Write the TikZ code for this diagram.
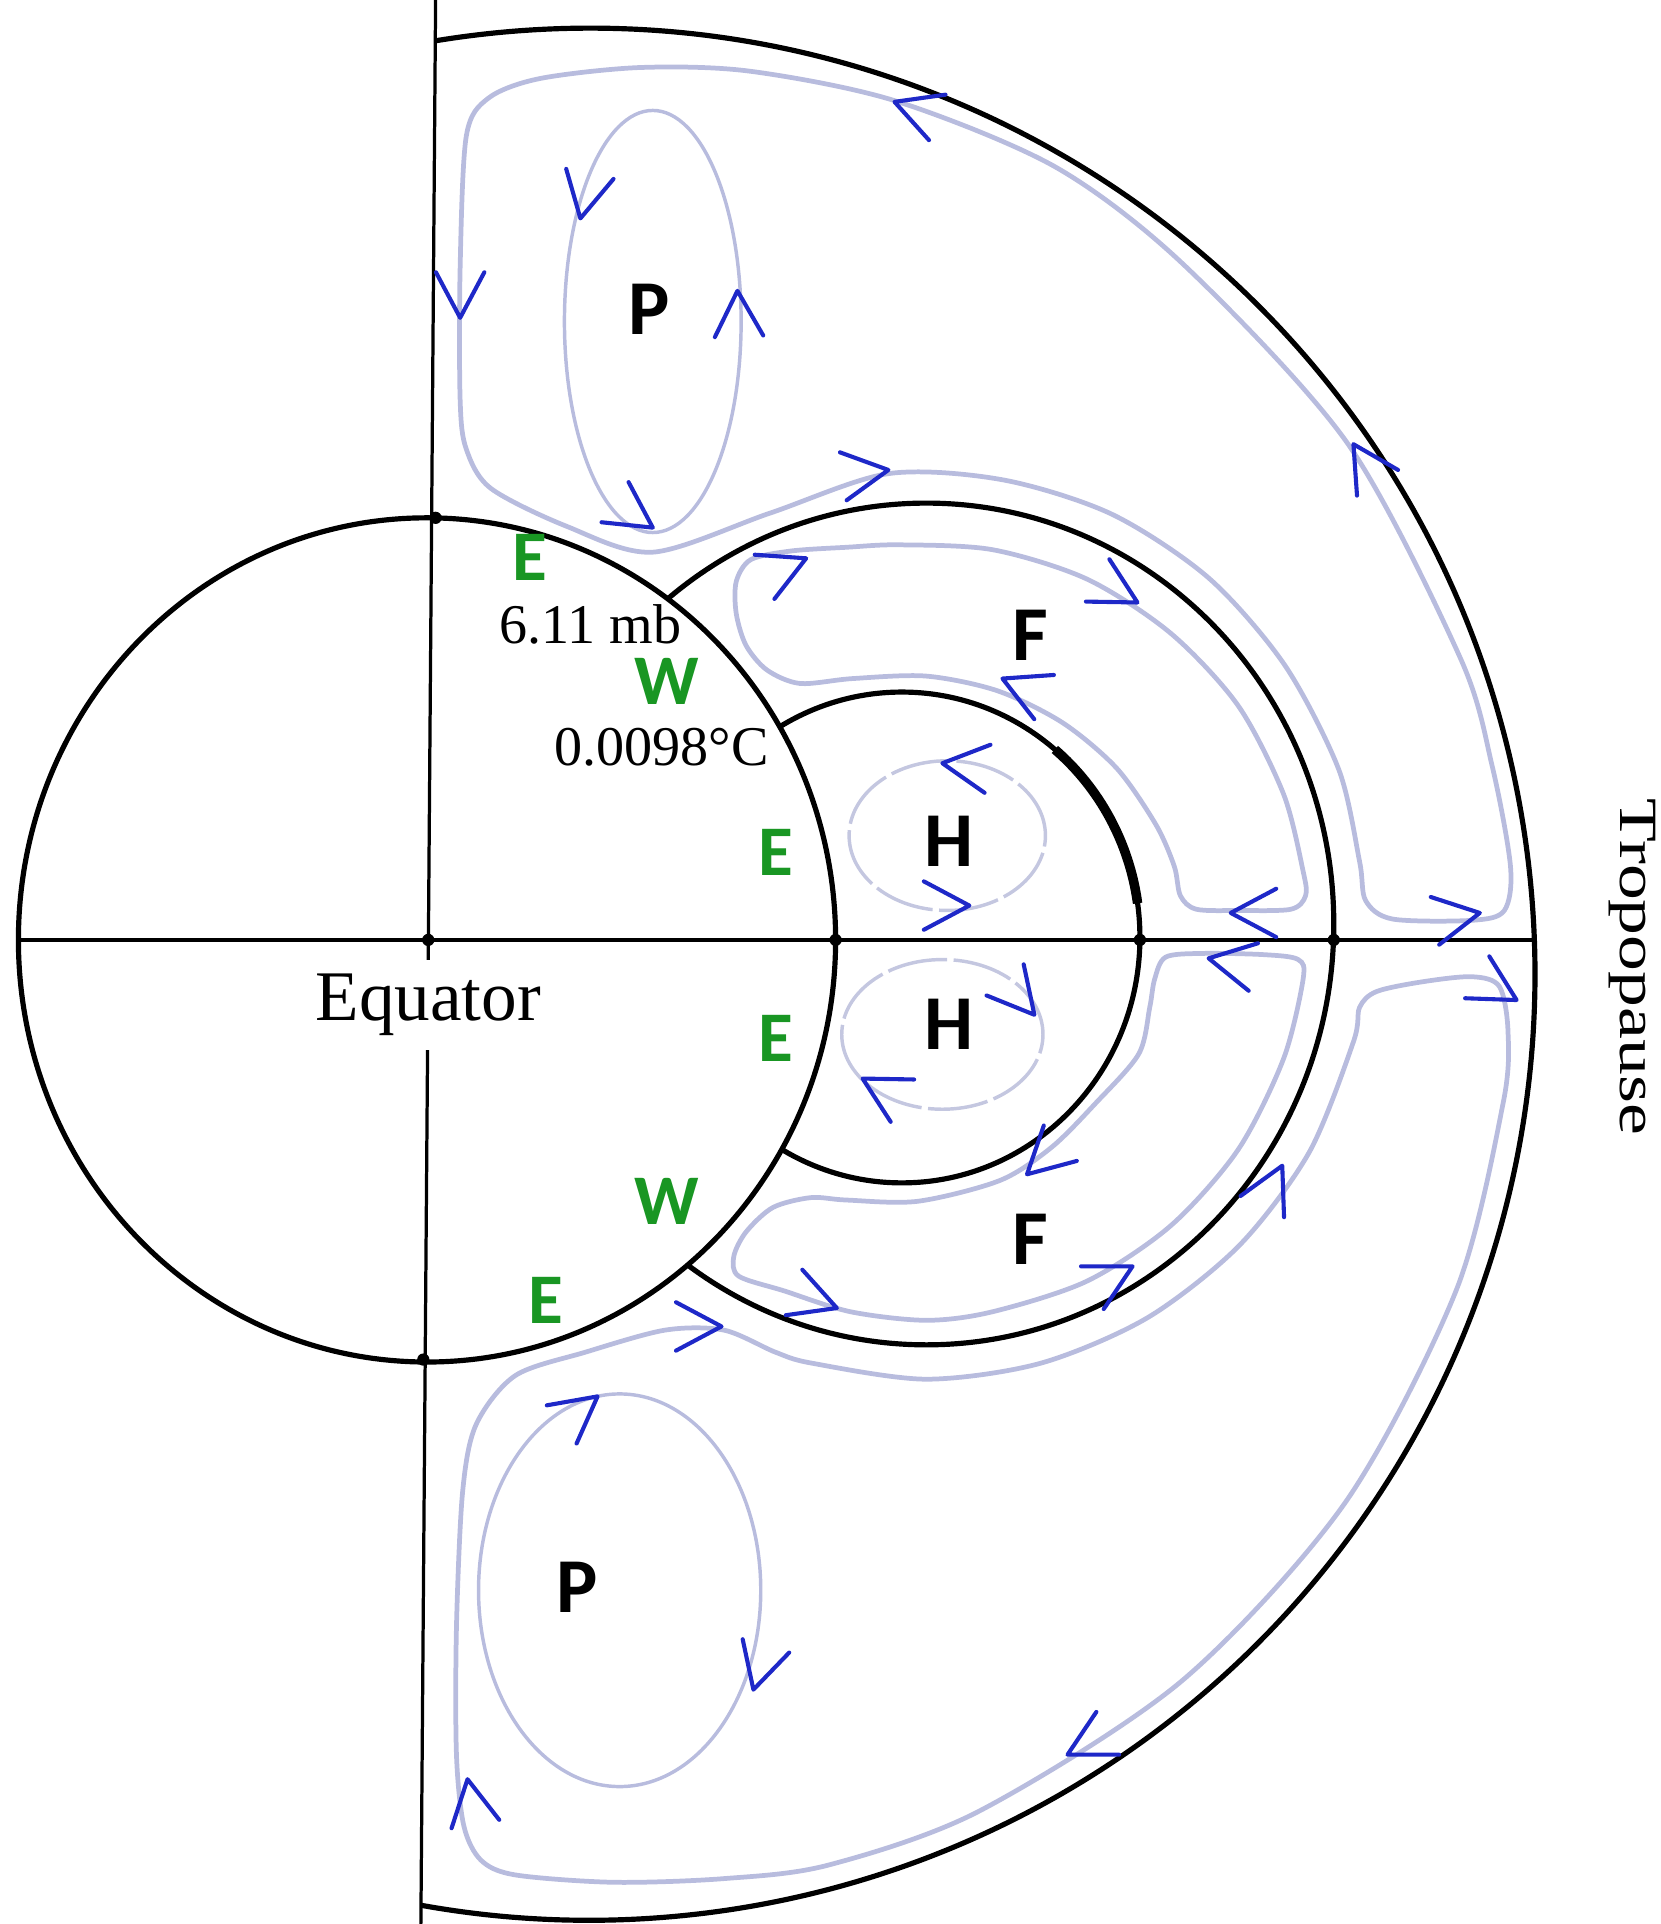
\documentclass[tikz,border=0pt]{standalone}
\usepackage{fontspec}
\usepackage{graphicx}
\setmainfont{Liberation Serif}
\newfontfamily\lblfont{Carlito}
\definecolor{strmcol}{RGB}{184,188,222}
\definecolor{hcol}{RGB}{196,199,224}
\definecolor{chevcol}{RGB}{30,40,200}
\definecolor{greencol}{RGB}{25,150,35}

\begin{document}
\begin{tikzpicture}[x=0.01cm, y=0.01cm,
    strm/.style={draw=strmcol, line width=1.1pt},
    pcell/.style={draw=strmcol, line width=0.8pt},
    hcell/.style={draw=hcol, line width=0.8pt, dash pattern=on 14pt off 1.5pt},
    chev/.style={draw=chevcol, line width=0.95pt, line cap=round, line join=round},
    bound/.style={line width=1.2pt},
    axisline/.style={line width=0.75pt},
    cell/.style={font=\lblfont\bfseries\fontsize{18}{18}\selectfont},
    wind/.style={font=\lblfont\bfseries\fontsize{16.5}{16.5}\selectfont, text=greencol, inner sep=0pt},
    val/.style={font=\fontsize{13}{13}\selectfont, inner sep=0pt}]
    \useasboundingbox (0,-802) rectangle (1353,766);

    % Northern circulation
    \draw[strm] plot[smooth cycle, tension=0.5] coordinates {(1113,32) (1135,17) (1200,16) (1226,24) (1231,60) (1216,142) (1190,230) (1098,405) (965,550) (860,630) (729,684) (611,708) (522,711) (440,702) (398,686) (380,655) (375,548) (375,440) (380,400) (400,368) (462,337) (532,316) (628,348) (724,380) (817,375) (906,347) (985,295) (1047,224) (1091,139) (1108,64)};
    \draw[strm] plot[smooth cycle, tension=0.5] coordinates {(1062,56) (1064,36) (1052,25) (1010,24) (975,25) (962,36) (957,60) (942,94) (910,140) (866,177) (813,203) (755,215) (695,213) (652,209) (625,220) (608,240) (600,266) (600,292) (612,310) (645,317) (690,320) (733,322) (809,318) (886,294) (954,250) (1009,191) (1046,119)};
    \draw[pcell] (532,504) ellipse [x radius=72, y radius=172];
    \draw[hcell] (772,85) ellipse [x radius=80, y radius=61];

    % Southern circulation
    \draw[strm] plot[smooth cycle, tension=0.5] coordinates {(1108,-55) (1122,-42) (1160,-34) (1200,-30) (1222,-38) (1229,-75) (1225,-133) (1187,-285) (1096,-459) (963,-604) (798,-710) (675,-754) (590,-765) (500,-768) (420,-762) (392,-750) (378,-722) (372,-664) (372,-560) (377,-450) (388,-395) (420,-355) (477,-336) (542,-318) (590,-318) (632,-336) (662,-345) (755,-358) (848,-345) (935,-308) (1010,-249) (1067,-173) (1103,-83)};
    \draw[strm] plot[smooth cycle, tension=0.5] coordinates {(1062,-32) (1058,-16) (1030,-12) (980,-11) (950,-14) (941,-32) (937,-55) (928,-93) (893,-133) (857,-169) (815,-196) (748,-213) (690,-212) (661,-210) (630,-218) (608,-238) (598,-258) (602,-274) (639,-286) (693,-303) (755,-310) (809,-303) (886,-278) (954,-233) (1009,-171) (1046,-97)};
    \draw[pcell] (505,-530) ellipse [x radius=115, y radius=160];
    \draw[hcell] (768,-77) ellipse [x radius=82, y radius=61];

    % Cell boundaries
    \draw[bound] (755,13) ellipse [x radius=332, y radius=343];
    \draw[bound] (735,2) ellipse [x radius=194, y radius=200];
    \draw[line width=2.2pt] (735,2) ++(50:194 and 200) arc[start angle=50, end angle=8, x radius=194, y radius=200];

    % Earth
    \draw[bound, fill=white] (348,0) ellipse [x radius=333, y radius=344];

    % Tropopause
    \draw[bound] (480,-28) ++(99.3:771) arc[start angle=99.3, end angle=-100.2, radius=771];

    % Axes
    \draw[axisline] (15,0) -- (1250,0);
    \draw[axisline] (355,766) -- (343,-802);
    \foreach \p in {(349,0),(681,0),(929,0),(1087,0),(355,344),(345,-342)}
        \fill \p circle[radius=5];

    % Flow arrows
    \foreach \x/\y/\a in {729/683/160, 375/507/270, 473/588/258, 601/529/92, 532/336/-34,
        724/383/8, 1103/404/122, 657/311/24, 927/275/-29, 817/213/156, 768/144/173,
        790/28/0, 1003/22/180, 1206/22/10, 985/-15/169, 1236/-49/-30, 843/-61/-50,
        703/-113/151, 837/-191/223, 682/-300/-20, 588/-315/0, 923/-266/28, 1045/-184/64,
        487/-372/38, 614/-611/254, 870/-664/208, 381/-684/100}
        \draw[chev] (\x,\y) ++({\a+152}:42) -- (\x,\y) -- ++({\a-152}:42);

    % Cell letters
    \node[cell] (polarN) at (529,514) {P};
    \node[cell] (polarS) at (470,-528) {P};
    \node[cell] (hadleyN) at (773,80) {H};
    \node[cell] (hadleyS) at (773,-69) {H};
    \node[cell] (ferrelN) at (840,248) {F};
    \node[cell] (ferrelS) at (840,-244) {F};

    % Surface winds
    \node[wind] (eastA) at (432,312) {E};
    \node[wind] (westN) at (543,211) {W};
    \node[wind] (eastB) at (632,71) {E};
    \node[wind] (eastC) at (632,-80) {E};
    \node[wind] (westS) at (543,-213) {W};
    \node[wind] (eastD) at (445,-294) {E};

    % Values and names
    \node[val] (press) at (481,257) {6.11 mb};
    \node[val] (temp) at (539,157) {0.0098°C};
    \node[font=\fontsize{16.5}{18}\selectfont, fill=white, inner xsep=1pt] (equator) at (349,-53) {Equator};
    \node[font=\fontsize{12.5}{14}\selectfont, rotate=-90, inner sep=0pt] (tropo) at (1330,-22) {\scalebox{1.33}[1]{Tropopause}};
\end{tikzpicture}
\end{document}
